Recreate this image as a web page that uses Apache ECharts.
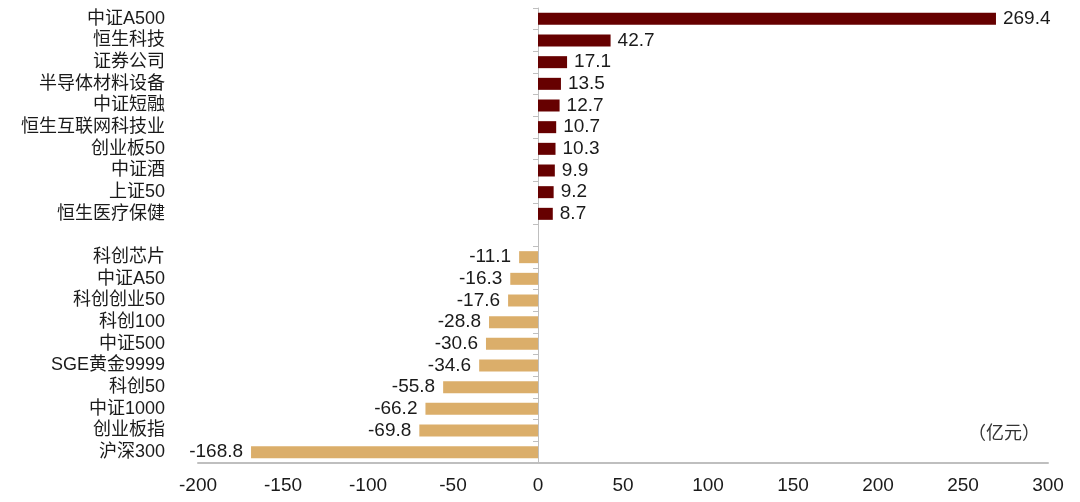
<!DOCTYPE html>
<html>
<head>
<meta charset="utf-8">
<script src="https://cdn.jsdelivr.net/npm/echarts@6/dist/echarts.min.js"></script>
<style>html,body{margin:0;padding:0;background:#fff}#c{width:1080px;height:502px}</style>
</head>
<body>
<div id="c"></div>
<script>
var inflowNames = ['中证A500','恒生科技','证券公司','半导体材料设备','中证短融','恒生互联网科技业','创业板50','中证酒','上证50','恒生医疗保健'];
var inflowValues = [269.4, 42.7, 17.1, 13.5, 12.7, 10.7, 10.3, 9.9, 9.2, 8.7];
var outflowNames = ['科创芯片','中证A50','科创创业50','科创100','中证500','SGE黄金9999','科创50','中证1000','创业板指','沪深300'];
var outflowValues = [-11.1, -16.3, -17.6, -28.8, -30.6, -34.6, -55.8, -66.2, -69.8, -168.8];
var xTicks = [-200, -150, -100, -50, 0, 50, 100, 150, 200, 250, 300];
var unitText = '（亿元）';

var categories = inflowNames.concat(['']).concat(outflowNames);
var inData = inflowValues.concat([null]).concat(outflowNames.map(function(){return null;}));
var outData = inflowNames.map(function(){return null;}).concat([null]).concat(outflowValues);

var chart = echarts.init(document.getElementById('c'));
var font = '"Liberation Sans", Arial, "Noto Sans CJK SC", sans-serif';
chart.setOption({
  animation: false,
  grid: {left: 198, right: 32, top: 8, bottom: 39, containLabel: false},
  xAxis: {
    type: 'value', min: xTicks[0], max: xTicks[xTicks.length-1], interval: 50,
    splitLine: {show: false},
    axisLine: {show: true, onZero: false, lineStyle: {color: '#BFBFBF', width: 2}},
    axisTick: {show: false},
    axisLabel: {color: '#1a1a1a', fontSize: 19, fontFamily: font, margin: 13}
  },
  yAxis: [{
    type: 'category', data: categories, inverse: true,
    axisLine: {show: true, onZero: true, lineStyle: {color: '#BFBFBF', width: 1}},
    axisTick: {show: true, length: 5, lineStyle: {color: '#BFBFBF'}},
    axisLabel: {show: false}
  }, {
    type: 'category', data: categories, inverse: true, position: 'left', offset: 0,
    axisLine: {show: false, onZero: false},
    axisTick: {show: false},
    axisLabel: {show: true, interval: 0, color: '#1a1a1a', fontSize: 18, fontFamily: font, margin: 33}
  }],
  series: [{
    type: 'bar', data: inData, yAxisIndex: 0, barWidth: 12, barGap: '-100%',
    itemStyle: {color: '#660000'},
    label: {show: true, position: 'right', distance: 7, color: '#1a1a1a', fontSize: 19, fontFamily: font}
  }, {
    type: 'bar', data: outData, yAxisIndex: 0, barWidth: 12, barGap: '-100%',
    itemStyle: {color: '#DBAE6A'},
    label: {show: true, position: 'left', distance: 8, color: '#1a1a1a', fontSize: 19, fontFamily: font}
  }],
  graphic: [{
    type: 'text', left: 968, top: 425,
    style: {text: unitText, fill: '#333', fontSize: 18, fontFamily: font}
  }]
});
</script>
</body>
</html>
